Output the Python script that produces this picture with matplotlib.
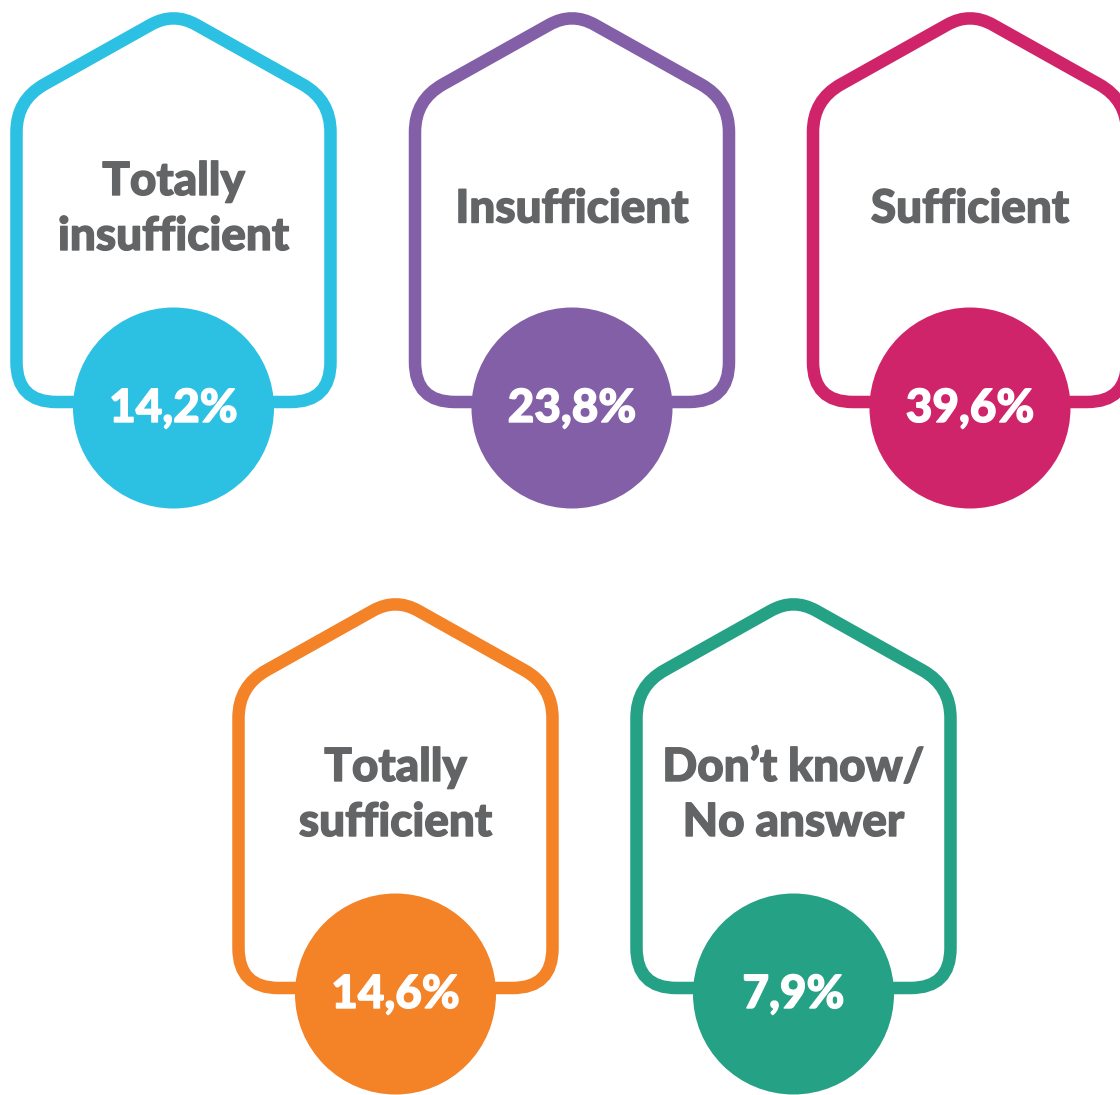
import matplotlib.pyplot as plt
import numpy as np
from matplotlib.path import Path
from matplotlib.patches import PathPatch, Circle
import matplotlib.patheffects as pe

labels = ["Totally\ninsufficient", "Insufficient", "Sufficient",
          "Totally\nsufficient", "Don\u2019t know/\nNo answer"]
values = [14.2, 23.8, 39.6, 14.6, 7.9]
colors = ["#2cc0e3", "#835fa7", "#cf2469", "#f48226", "#25a186"]

# layout (pixels)
centers_x = [173.5, 572, 970, 395.5, 793.5]
tops_y = [12, 12, 12, 598, 598]
half_w = 157
shoulder = 88
body_h = 390
circ_r = 100.5
gray = "#636466"


def rounded_path(verts, radii):
    verts = np.asarray(verts, float)
    n = len(verts)
    codes, pts = [], []
    for i in range(n):
        p = verts[i]
        a = verts[i - 1]
        b = verts[(i + 1) % n]
        da = (a - p) / np.linalg.norm(a - p)
        db = (b - p) / np.linalg.norm(b - p)
        r = radii[i]
        p1 = p + da * r
        p2 = p + db * r
        if i == 0:
            pts.append(p1); codes.append(Path.MOVETO)
        else:
            pts.append(p1); codes.append(Path.LINETO)
        pts += [p, p2]
        codes += [Path.CURVE3, Path.CURVE3]
    pts.append(pts[0]); codes.append(Path.CLOSEPOLY)
    return Path(pts, codes)


fig = plt.figure(figsize=(11.2, 10.95), dpi=100)
ax = fig.add_axes([0, 0, 1, 1])
ax.set_xlim(0, 1120)
ax.set_ylim(1095, 0)
ax.axis("off")

for lab, val, col, cx, ty in zip(labels, values, colors, centers_x, tops_y):
    yb = ty + body_h
    verts = [(cx, ty), (cx + half_w, ty + shoulder), (cx + half_w, yb),
             (cx - half_w, yb), (cx - half_w, ty + shoulder)]
    path = rounded_path(verts, [26, 32, 40, 40, 32])
    # white fill keeps Agg from clipping the curved outline at the canvas edge
    ax.add_patch(PathPatch(path, facecolor="white", edgecolor=col, lw=9,
                           zorder=1, clip_on=False))
    cy = yb + 6
    ax.add_patch(Circle((cx, cy), circ_r, facecolor=col, edgecolor="none",
                        zorder=2, clip_on=False))

    lines = lab.split("\n")
    base_mid = ty + 210.5
    step = 55
    for k, line in enumerate(lines):
        yy = base_mid + (k - (len(lines) - 1) / 2) * step
        ax.text(cx, yy, line, ha="center", va="baseline", color=gray,
                fontsize=33, fontfamily="Lato", fontweight="black", zorder=3,
                path_effects=[pe.withStroke(linewidth=1.0, foreground=gray)])
    ax.text(cx, cy + 14, f"{val:.1f}%".replace(".", ","), ha="center",
            va="baseline", color="white", fontsize=33, fontfamily="Lato",
            fontweight="black", zorder=3,
            path_effects=[pe.withStroke(linewidth=1.0, foreground="white")])

fig.savefig("out.png", dpi=100, facecolor="white")
